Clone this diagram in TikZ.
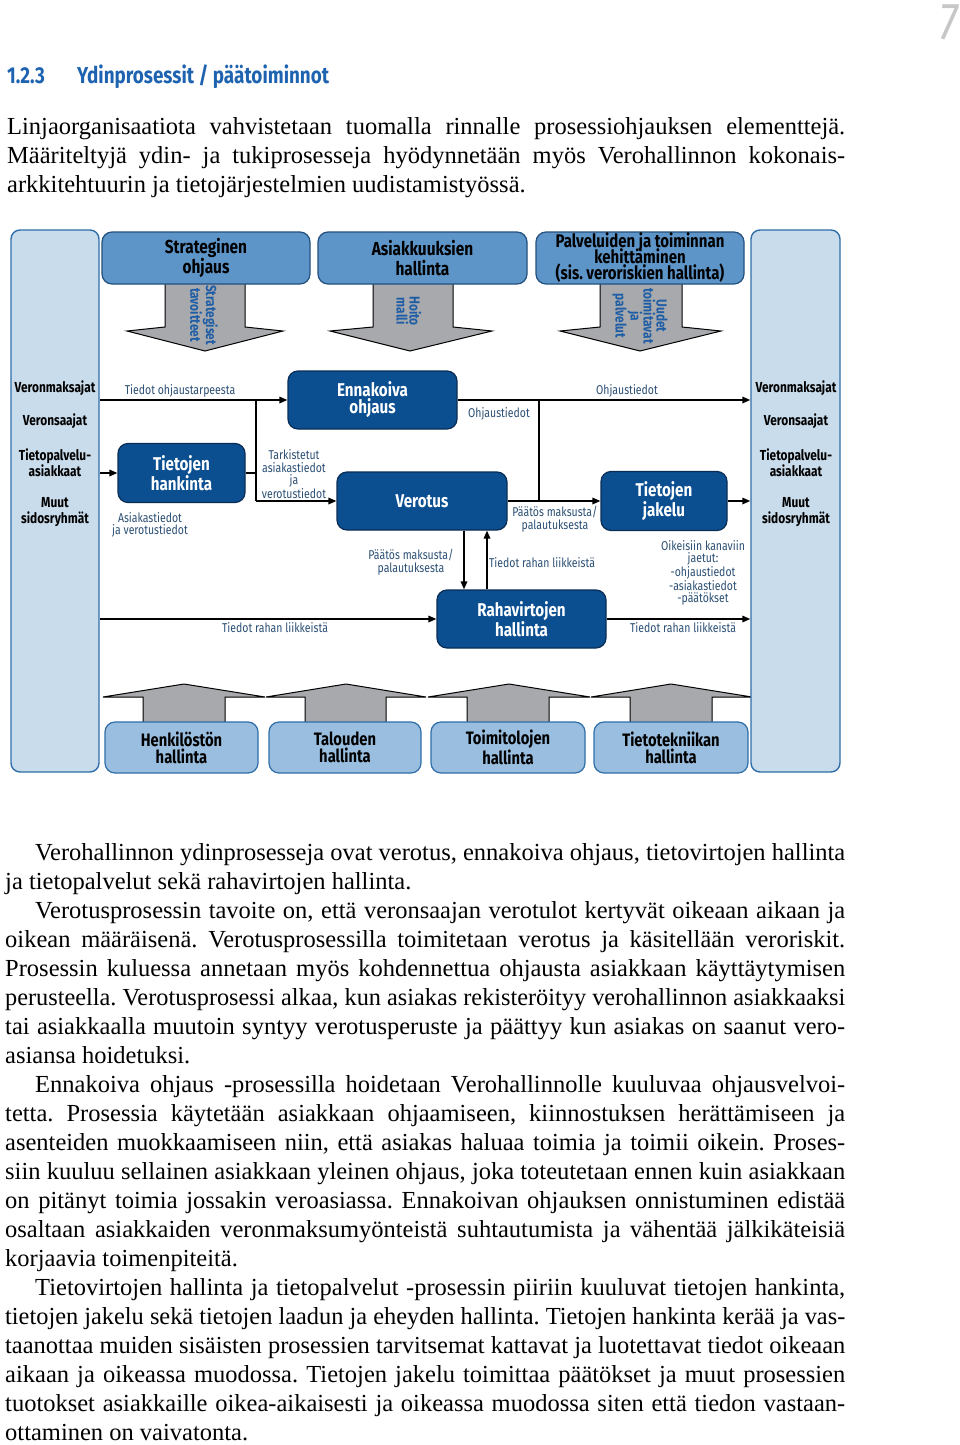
\documentclass[tikz,border=0pt]{standalone}
\usepackage{fontspec}
\usepackage{graphicx}
\setmainfont{Liberation Serif}
\newfontfamily\cf[FakeStretch=0.82]{Fira Sans}
\usetikzlibrary{arrows.meta}
\definecolor{lightb}{HTML}{C9DCEB}
\definecolor{bordb}{HTML}{2F6EA8}
\definecolor{topf}{HTML}{5D95C9}
\definecolor{topb}{HTML}{23507E}
\definecolor{darkf}{HTML}{0B4F91}
\definecolor{darkb}{HTML}{0A2D55}
\definecolor{botf}{HTML}{99BEDF}
\definecolor{greyc}{HTML}{A7A9AC}
\definecolor{labc}{HTML}{2B4F74}
\definecolor{arrc}{HTML}{1F5EA6}
\definecolor{headc}{HTML}{1E63B0}
\newcommand\jline[2]{\setbox0=\hbox{#2}\ifdim\wd0>#1\relax\resizebox{#1}{\height}{#2}\else\makebox[#1][s]{#2}\fi}
\newcommand\tightls{\lineskiplimit=-20pt\relax}
\tikzset{
 tall/.style={draw=bordb, fill=lightb, line width=1.4pt, rounded corners=9pt, inner sep=0pt},
 topbox/.style={draw=topb, fill=topf, line width=1.2pt, rounded corners=10pt, align=center, inner sep=0pt},
 dbox/.style={draw=darkb, fill=darkf, line width=1.2pt, rounded corners=10pt, text=white, align=center, font=\cf\bfseries\fontsize{18.5}{17}\selectfont, inner sep=0pt},
 bbox/.style={draw=bordb, fill=botf, line width=1.2pt, rounded corners=10pt, align=center, font=\cf\bfseries\fontsize{18}{17}\selectfont, inner sep=0pt},
 lab/.style={text=labc, align=center, font=\cf\fontsize{12.8}{12.5}\selectfont, inner sep=0pt},
 side/.style={align=center, font=\cf\bfseries\fontsize{14.5}{16}\selectfont, inner sep=0pt},
 conn/.style={line width=1.6pt, -{Triangle[length=8pt,width=6.5pt]}},
 plainln/.style={line width=1.6pt},
 garrow/.style={fill=greyc, draw=black, line width=1pt, line join=miter},
 atext/.style={text=arrc, align=center, rotate=-90, font=\cf\bfseries\fontsize{14.5}{13}\selectfont, inner sep=0pt},
 bodytxt/.style={inner sep=0pt, font=\fontsize{24.5}{29}\selectfont},
}
\begin{document}
\frenchspacing
\begin{tikzpicture}[x=1pt,y=-1pt]
\useasboundingbox (0,0) rectangle (960,1445);
\fill[white] (0,0) rectangle (960,1445);

% page number and heading
\node[anchor=base east, inner sep=0pt, text=black!22, font=\cf\itshape\fontsize{52}{52}\selectfont] (pnum) at (958,40) {7};
\node[anchor=base west, inner sep=0pt, text=headc, font=\cf\bfseries\fontsize{23}{24}\selectfont] (hnum) at (7,84) {1.2.3};
\node[anchor=base west, inner sep=0pt, text=headc, font=\cf\bfseries\fontsize{23}{24}\selectfont] (htitle) at (77,84) {Ydinprosessit / päätoiminnot};

% intro paragraph
\node[bodytxt, anchor=base west] (intro) at (7,134) {\begin{minipage}[t]{838pt}\setlength\parindent{0pt}\fontsize{24.5}{29}\selectfont\frenchspacing
\jline{838pt}{Linjaorganisaatiota vahvistetaan tuomalla rinnalle prosessiohjauksen elementtejä.}\par
\jline{838pt}{Määriteltyjä ydin- ja tukiprosesseja hyödynnetään myös Verohallinnon kokonais-}\par
arkkitehtuurin ja tietojärjestelmien uudistamistyössä.\par
\end{minipage}};

% grey down arrows (behind top boxes)
\draw[garrow] (165,280) -- (165,327) -- (127,331) -- (205,351) -- (283,331) -- (245,327) -- (245,280) -- cycle;
\draw[garrow] (373,280) -- (373,327) -- (330,331) -- (410,351) -- (492,331) -- (453,327) -- (453,280) -- cycle;
\draw[garrow] (600,280) -- (600,327) -- (560,331) -- (640,351) -- (721,331) -- (682,327) -- (682,280) -- cycle;

% grey up arrows (behind bottom boxes)
\draw[garrow] (143,726) -- (143,697) -- (103,697) -- (184,684) -- (265,697) -- (225,697) -- (225,726) -- cycle;
\draw[garrow] (305,726) -- (305,697) -- (266,697) -- (346,684) -- (426,697) -- (386,697) -- (386,726) -- cycle;
\draw[garrow] (467,726) -- (467,697) -- (428,697) -- (509,684) -- (590,697) -- (549,697) -- (549,726) -- cycle;
\draw[garrow] (630,726) -- (630,697) -- (591,697) -- (671,684) -- (752,697) -- (712,697) -- (712,726) -- cycle;

% tall side boxes
\node[tall, minimum width=88pt, minimum height=542pt] (lbox) at (55,501) {};
\node[tall, minimum width=89pt, minimum height=542pt] (rbox) at (795.5,501) {};

% top boxes
\node[topbox, minimum width=208pt, minimum height=52pt, font=\cf\bfseries\fontsize{18.8}{20}\selectfont] (strat) at (206,258) {Strateginen\\ohjaus};
\node[topbox, minimum width=209pt, minimum height=52pt, font=\cf\bfseries\fontsize{18.8}{20}\selectfont] (asiak) at (422.5,258) {Asiakkuuksien\\hallinta};
\node[topbox, minimum width=208pt, minimum height=52pt] (palv) at (640,258) {};
\node[align=center, inner sep=0pt, font=\cf\bfseries\fontsize{18.3}{16.4}\selectfont\tightls] (palvt) at (640,257.5) {Palveluiden ja toiminnan\\kehittäminen\\(sis. veroriskien hallinta)};

% texts in down arrows
\node[atext] (ta1) at (204,315) {Strategiset\\tavoitteet};
\node[atext] (ta2) at (409,311) {Hoito\\malli};
\node[atext] (ta3) at (640,316) {Uudet\\toimitavat\\ja\\palvelut};

% side labels
\node[side] (l1) at (55,388) {Veronmaksajat};
\node[side] (l2) at (55,421) {Veronsaajat};
\node[side] (l3) at (55,463) {Tietopalvelu-\\asiakkaat};
\node[side] (l4) at (55,512.5) {Muut\\sidosryhmät};
\node[side] (r1) at (796,388) {Veronmaksajat};
\node[side] (r2) at (796,421) {Veronsaajat};
\node[side] (r3) at (796,463) {Tietopalvelu-\\asiakkaat};
\node[side] (r4) at (796,512.5) {Muut\\sidosryhmät};

% core process boxes
\node[dbox, minimum width=169pt, minimum height=58pt] (enn) at (372.5,400) {Ennakoiva\\ohjaus};
\node[dbox, minimum width=127pt, minimum height=59pt] (hank) at (181.5,473) {Tietojen\\hankinta};
\node[dbox, minimum width=170pt, minimum height=58pt] (ver) at (422,501) {Verotus};
\node[dbox, minimum width=126pt, minimum height=59pt] (jak) at (664,501) {Tietojen\\jakelu};
\node[dbox, minimum width=169pt, minimum height=58pt] (rah) at (521.5,619) {Rahavirtojen\\hallinta};

% support boxes
\node[bbox, minimum width=153pt, minimum height=51pt] (henk) at (181.5,747.5) {Henkilöstön\\hallinta};
\node[bbox, minimum width=152pt, minimum height=51pt] (tal) at (345,747.5) {Talouden\\hallinta};
\node[bbox, minimum width=154pt, minimum height=51pt] (toim) at (508,747.5) {Toimitolojen\\hallinta};
\node[bbox, minimum width=154pt, minimum height=51pt] (tiet) at (671,747.5) {Tietotekniikan\\hallinta};

% junction coordinates
\coordinate (j1) at (256,400);
\coordinate (j2) at (539,400);
\coordinate (cv1) at (464,560);
\coordinate (cv2) at (487,560);

% connectors
\draw[conn] (lbox.east |- enn.west) -- (enn.west);
\draw[plainln] (j1) -- (j1 |- ver.west);
\draw[conn] (j1 |- ver.west) -- (ver.west);
\draw[conn] (lbox.east |- hank.west) -- (hank.west);
\draw[plainln] (hank.east) -- (hank.east -| j1);
\draw[conn] (enn.east) -- (enn.east -| rbox.west);
\draw[plainln] (j2) -- (j2 |- ver.east);
\draw[conn] (ver.east) -- (ver.east -| jak.west);
\draw[conn] (jak.east) -- (jak.east -| rbox.west);
\draw[conn] (ver.south -| cv1) -- (rah.north -| cv1);
\draw[conn] (rah.north -| cv2) -- (ver.south -| cv2);
\draw[conn] (lbox.east |- rah.west) -- (rah.west);
\draw[conn] (rah.east) -- (rah.east -| rbox.west);

% connector labels
\node[lab] (lb1) at (180,391) {Tiedot ohjaustarpeesta};
\node[lab] (lb2) at (294,474) {Tarkistetut\\asiakastiedot\\ja\\verotustiedot};
\node[lab] (lb3) at (150,525) {Asiakastiedot\\ja verotustiedot};
\node[lab] (lb4) at (627,391) {Ohjaustiedot};
\node[lab] (lb5) at (499,414) {Ohjaustiedot};
\node[lab] (lb6) at (555,519) {Päätös maksusta/\\palautuksesta};
\node[lab] (lb7) at (703,573) {Oikeisiin kanaviin\\jaetut:\\-ohjaustiedot\\-asiakastiedot\\-päätökset};
\node[lab] (lb8) at (411,562) {Päätös maksusta/\\palautuksesta};
\node[lab] (lb9) at (542,563) {Tiedot rahan liikkeistä};
\node[lab] (lb10) at (275,628) {Tiedot rahan liikkeistä};
\node[lab] (lb11) at (683,628) {Tiedot rahan liikkeistä};

% body text
\node[bodytxt, anchor=base west] (body) at (5,860) {\begin{minipage}[t]{840pt}\setlength\parindent{0pt}\fontsize{24.5}{29}\selectfont\frenchspacing
\hspace*{30pt}\jline{810pt}{Verohallinnon ydinprosesseja ovat verotus, ennakoiva ohjaus, tietovirtojen hallinta}\par
ja tietopalvelut sekä rahavirtojen hallinta.\par
\hspace*{30pt}\jline{810pt}{Verotusprosessin tavoite on, että veronsaajan verotulot kertyvät oikeaan aikaan ja}\par
\jline{840pt}{oikean määräisenä. Verotusprosessilla toimitetaan verotus ja käsitellään veroriskit.}\par
\jline{840pt}{Prosessin kuluessa annetaan myös kohdennettua ohjausta asiakkaan käyttäytymisen}\par
\jline{840pt}{perusteella. Verotusprosessi alkaa, kun asiakas rekisteröityy verohallinnon asiakkaaksi}\par
\jline{840pt}{tai asiakkaalla muutoin syntyy verotusperuste ja päättyy kun asiakas on saanut vero-}\par
asiansa hoidetuksi.\par
\hspace*{30pt}\jline{810pt}{Ennakoiva ohjaus -prosessilla hoidetaan Verohallinnolle kuuluvaa ohjausvelvoi-}\par
\jline{840pt}{tetta. Prosessia käytetään asiakkaan ohjaamiseen, kiinnostuksen herättämiseen ja}\par
\jline{840pt}{asenteiden muokkaamiseen niin, että asiakas haluaa toimia ja toimii oikein. Proses-}\par
\jline{840pt}{siin kuuluu sellainen asiakkaan yleinen ohjaus, joka toteutetaan ennen kuin asiakkaan}\par
\jline{840pt}{on pitänyt toimia jossakin veroasiassa. Ennakoivan ohjauksen onnistuminen edistää}\par
\jline{840pt}{osaltaan asiakkaiden veronmaksumyönteistä suhtautumista ja vähentää jälkikäteisiä}\par
korjaavia toimenpiteitä.\par
\hspace*{30pt}\jline{810pt}{Tietovirtojen hallinta ja tietopalvelut -prosessin piiriin kuuluvat tietojen hankinta,}\par
\jline{840pt}{tietojen jakelu sekä tietojen laadun ja eheyden hallinta. Tietojen hankinta kerää ja vas-}\par
\jline{840pt}{taanottaa muiden sisäisten prosessien tarvitsemat kattavat ja luotettavat tiedot oikeaan}\par
\jline{840pt}{aikaan ja oikeassa muodossa. Tietojen jakelu toimittaa päätökset ja muut prosessien}\par
\jline{840pt}{tuotokset asiakkaille oikea-aikaisesti ja oikeassa muodossa siten että tiedon vastaan-}\par
ottaminen on vaivatonta.\par
\end{minipage}};
\end{tikzpicture}
\end{document}
